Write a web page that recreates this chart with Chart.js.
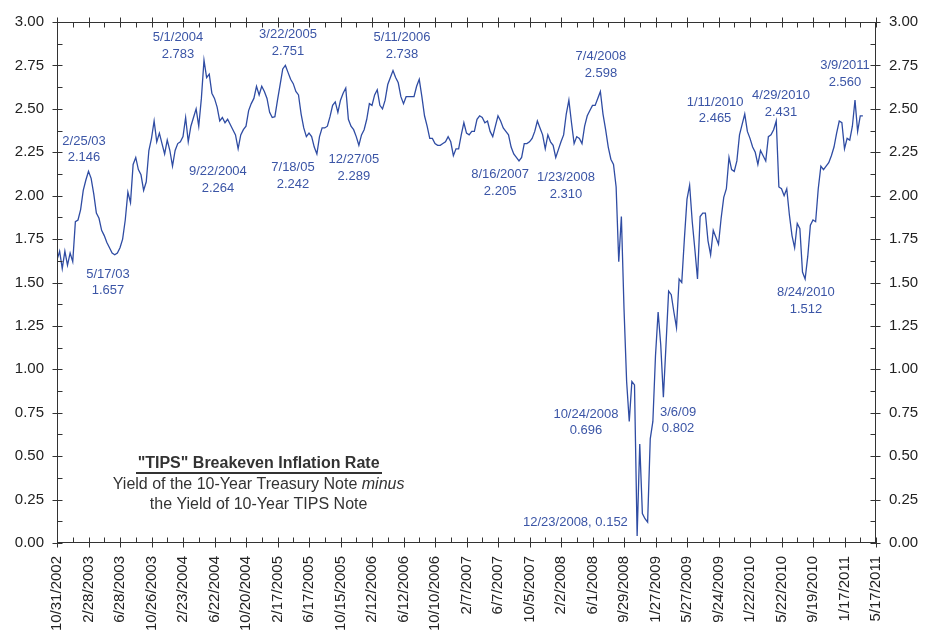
<!DOCTYPE html>
<html>
<head>
<meta charset="utf-8">
<script src="https://cdn.jsdelivr.net/npm/chart.js@4.4.1/dist/chart.umd.min.js"></script>
<style>
  body { margin: 0; background: #fff; }
  #wrap { width: 933px; height: 632px; }
</style>
</head>
<body>
<div id="wrap"><canvas id="tips" width="933" height="632"></canvas></div>
<script>
// x axis is days after 10/31/2002, one reading every 10 days
const stepDays = 10;
const lastDay = 3120;

const tickLabels = ['10/31/2002','2/28/2003','6/28/2003','10/26/2003','2/23/2004','6/22/2004',
  '10/20/2004','2/17/2005','6/17/2005','10/15/2005','2/12/2006','6/12/2006','10/10/2006',
  '2/7/2007','6/7/2007','10/5/2007','2/2/2008','6/1/2008','9/29/2008','1/27/2009','5/27/2009',
  '9/24/2009','1/22/2010','5/22/2010','9/19/2010','1/17/2011','5/17/2011'];

// breakeven rate (%)
const rates = [
  1.63, 1.68, 1.58, 1.68, 1.60, 1.67, 1.62, 1.85, 1.86, 1.92,
  2.03, 2.09, 2.14, 2.10, 2.01, 1.90, 1.87, 1.80, 1.77, 1.73,
  1.70, 1.67, 1.66, 1.67, 1.70, 1.75, 1.86, 2.02, 1.96, 2.18,
  2.22, 2.15, 2.12, 2.03, 2.08, 2.26, 2.33, 2.43, 2.31, 2.36,
  2.30, 2.24, 2.32, 2.26, 2.17, 2.26, 2.30, 2.31, 2.34, 2.45,
  2.31, 2.40, 2.45, 2.50, 2.40, 2.56, 2.78, 2.68, 2.70, 2.59,
  2.56, 2.51, 2.43, 2.45, 2.42, 2.44, 2.41, 2.38, 2.35, 2.27,
  2.35, 2.38, 2.40, 2.49, 2.53, 2.56, 2.63, 2.58, 2.63, 2.60,
  2.56, 2.48, 2.45, 2.455, 2.55, 2.64, 2.73, 2.75, 2.71, 2.67,
  2.645, 2.60, 2.58, 2.47, 2.39, 2.34, 2.36, 2.34, 2.28, 2.24,
  2.34, 2.39, 2.39, 2.40, 2.455, 2.52, 2.54, 2.48, 2.55, 2.59,
  2.62, 2.44, 2.40, 2.38, 2.34, 2.29, 2.35, 2.38, 2.44, 2.53,
  2.52, 2.58, 2.61, 2.52, 2.50, 2.55, 2.64, 2.68, 2.72, 2.68,
  2.65, 2.57, 2.53, 2.57, 2.57, 2.57, 2.57, 2.63, 2.67, 2.57,
  2.46, 2.40, 2.33, 2.33, 2.30, 2.29, 2.29, 2.30, 2.31, 2.34,
  2.31, 2.23, 2.27, 2.27, 2.35, 2.42, 2.36, 2.35, 2.37, 2.37,
  2.44, 2.46, 2.45, 2.42, 2.43, 2.37, 2.34, 2.40, 2.46, 2.43,
  2.39, 2.37, 2.35, 2.28, 2.24, 2.22, 2.20, 2.22, 2.30, 2.30,
  2.31, 2.33, 2.37, 2.43, 2.39, 2.35, 2.27, 2.35, 2.31, 2.29,
  2.22, 2.265, 2.31, 2.35, 2.47, 2.55, 2.42, 2.30, 2.34, 2.33,
  2.30, 2.40, 2.46, 2.49, 2.52, 2.52, 2.56, 2.60, 2.47, 2.38,
  2.28, 2.21, 2.18, 2.05, 1.62, 1.88, 1.35, 0.93, 0.70, 0.93,
  0.91, 0.04, 0.57, 0.17, 0.14, 0.12, 0.60, 0.70, 1.08, 1.33,
  1.14, 0.84, 1.14, 1.45, 1.43, 1.33, 1.24, 1.52, 1.50, 1.75,
  1.98, 2.06, 1.85, 1.69, 1.52, 1.88, 1.90, 1.90, 1.74, 1.66,
  1.80, 1.76, 1.72, 1.87, 1.99, 2.04, 2.22, 2.15, 2.14, 2.20,
  2.35, 2.41, 2.47, 2.37, 2.33, 2.28, 2.25, 2.18, 2.26, 2.23,
  2.20, 2.34, 2.35, 2.38, 2.43, 2.05, 2.04, 2.00, 2.04, 1.89,
  1.77, 1.70, 1.84, 1.81, 1.56, 1.52, 1.65, 1.83, 1.86, 1.85,
  2.04, 2.17, 2.15, 2.17, 2.19, 2.23, 2.28, 2.36, 2.43, 2.42,
  2.27, 2.33, 2.32, 2.40, 2.55, 2.37, 2.46, 2.46
];

// peak / trough notes, anchored in data units (day, rate)
const noteText = [['2/25/03','2.146'], ['5/17/03','1.657'], ['5/1/2004','2.783'], ['9/22/2004','2.264'],
  ['3/22/2005','2.751'], ['7/18/05','2.242'], ['12/27/05','2.289'], ['5/11/2006','2.738'],
  ['8/16/2007','2.205'], ['1/23/2008','2.310'], ['7/4/2008','2.598'], ['10/24/2008','0.696'],
  ['12/23/2008, 0.152'], ['3/6/09','0.802'], ['1/11/2010','2.465'], ['4/29/2010','2.431'],
  ['8/24/2010','1.512'], ['3/9/2011','2.560']];
const noteDay = [103, 194, 461, 613, 880, 899, 1131, 1314, 1688, 1939, 2072, 2015, 1975, 2366, 2507, 2758, 2853, 3002];
const noteLevel = [2.314, 1.549, 2.909, 2.137, 2.926, 2.16, 2.206, 2.909, 2.12, 2.103, 2.80, 0.743, 0.12, 0.754, 2.537, 2.577, 1.44, 2.749];

const FONT = "'Liberation Sans', Arial, sans-serif";

// frame, tick marks, notes and the title box
const extras = {
  id: 'extras',
  afterDraw(chart) {
    const ctx = chart.ctx;
    const a = chart.chartArea;
    const xs = chart.scales.x, ys = chart.scales.y;
    ctx.save();
    ctx.strokeStyle = '#333';
    ctx.lineWidth = 1;
    const L = Math.round(a.left) + 0.5, R = Math.round(a.right) - 0.5;
    const T = Math.round(a.top) + 0.5, B = Math.round(a.bottom) - 0.5;
    ctx.strokeRect(L, T, R - L, B - T);

    ctx.beginPath();
    for (let d = 0; d <= lastDay; d += 60) {
      const px = Math.round(xs.getPixelForValue(d)) + 0.5;
      const major = d % 120 === 0;
      ctx.moveTo(px, B - 5); ctx.lineTo(px, B + (major ? 5 : 0));
      ctx.moveTo(px, T - (major ? 5 : 0)); ctx.lineTo(px, T + 5);
    }
    for (let k = 0; k <= 24; k++) {
      const py = Math.round(ys.getPixelForValue(k * 0.125)) + 0.5;
      const major = k % 2 === 0;
      ctx.moveTo(L - (major ? 5 : 0), py); ctx.lineTo(L + 5, py);
      ctx.moveTo(R - 5, py); ctx.lineTo(R + (major ? 5 : 0), py);
    }
    ctx.stroke();

    // notes
    ctx.fillStyle = '#3b55a6';
    ctx.font = '13px ' + FONT;
    ctx.textAlign = 'center';
    ctx.textBaseline = 'middle';
    noteText.forEach((lines, i) => {
      const cx = xs.getPixelForValue(noteDay[i]);
      const cy = ys.getPixelForValue(noteLevel[i]);
      lines.forEach((s, j) => ctx.fillText(s, cx, cy + j * 16.5));
    });

    // title box
    const bx = xs.getPixelForValue(768), by = ys.getPixelForValue(0.457);
    ctx.fillStyle = '#333';
    ctx.font = 'bold 16px ' + FONT;
    const title = '"TIPS" Breakeven Inflation Rate';
    const tw = ctx.measureText(title).width;
    ctx.fillText(title, bx, by);
    ctx.fillRect(Math.round(bx - tw / 2 - 2), Math.round(by + 8), Math.round(tw + 4), 2);

    ctx.font = '16px ' + FONT;
    const s1 = 'Yield of the 10-Year Treasury Note ';
    const w1 = ctx.measureText(s1).width;
    ctx.font = 'italic 16px ' + FONT;
    const w2 = ctx.measureText('minus').width;
    const x0 = bx - (w1 + w2) / 2;
    ctx.textAlign = 'left';
    ctx.font = '16px ' + FONT;
    ctx.fillText(s1, x0, by + 21);
    ctx.font = 'italic 16px ' + FONT;
    ctx.fillText('minus', x0 + w1, by + 21);
    ctx.textAlign = 'center';
    ctx.font = '16px ' + FONT;
    ctx.fillText('the Yield of 10-Year TIPS Note', bx, by + 41);
    ctx.restore();
  }
};

function yAxis(side) {
  return {
    position: side,
    min: 0,
    max: 3,
    ticks: {
      stepSize: 0.25,
      padding: 13,
      color: '#222',
      font: { family: FONT, size: 15 },
      callback: v => v.toFixed(2)
    },
    grid: { display: false, drawTicks: false },
    border: { display: false },
    afterFit: s => { s.width = 57; }
  };
}

new Chart(document.getElementById('tips'), {
  type: 'line',
  data: {
    datasets: [{
      data: rates.map((v, i) => ({ x: i * stepDays, y: v })),
      borderColor: '#2f4ca3',
      borderWidth: 1.3,
      pointRadius: 0,
      tension: 0,
      yAxisID: 'y'
    }]
  },
  options: {
    responsive: false,
    devicePixelRatio: 1,
    animation: false,
    layout: { padding: { top: 18, left: 0, right: 0, bottom: 0 } },
    plugins: { legend: { display: false }, tooltip: { enabled: false } },
    scales: {
      x: {
        type: 'linear',
        min: 0,
        max: lastDay,
        ticks: {
          stepSize: 120,
          autoSkip: false,
          minRotation: 90,
          maxRotation: 90,
          padding: 13,
          color: '#222',
          font: { family: FONT, size: 15 },
          callback: (v, i) => tickLabels[i]
        },
        grid: { display: false, drawTicks: false },
        border: { display: false },
        afterFit: s => { s.height = 89; }
      },
      y: yAxis('left'),
      y2: yAxis('right')
    }
  },
  plugins: [extras]
});
</script>
</body>
</html>
